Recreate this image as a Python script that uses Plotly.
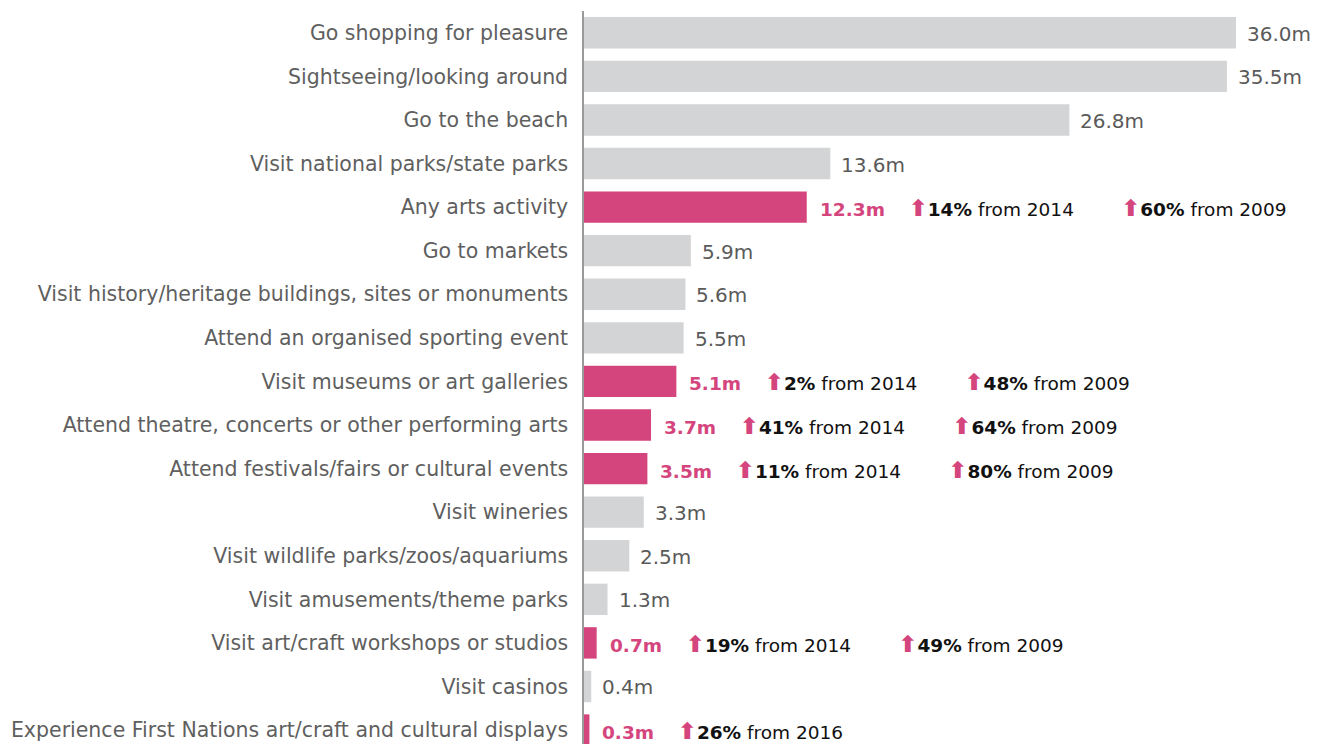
import plotly.graph_objects as go

categories = [
    "Go shopping for pleasure",
    "Sightseeing/looking around",
    "Go to the beach",
    "Visit national parks/state parks",
    "Any arts activity",
    "Go to markets",
    "Visit history/heritage buildings, sites or monuments",
    "Attend an organised sporting event",
    "Visit museums or art galleries",
    "Attend theatre, concerts or other performing arts",
    "Attend festivals/fairs or cultural events",
    "Visit wineries",
    "Visit wildlife parks/zoos/aquariums",
    "Visit amusements/theme parks",
    "Visit art/craft workshops or studios",
    "Visit casinos",
    "Experience First Nations art/craft and cultural displays",
]
visitors_m = [36.0, 35.5, 26.8, 13.6, 12.3, 5.9, 5.6, 5.5, 5.1, 3.7, 3.5, 3.3, 2.5, 1.3, 0.7, 0.4, 0.3]
is_arts = [False, False, False, False, True, False, False, False, True, True, True,
           False, False, False, True, False, True]
change_first = ["", "", "", "", "14%", "", "", "", "2%", "41%", "11%", "", "", "", "19%", "", "26%"]
first_year = ["", "", "", "", "2014", "", "", "", "2014", "2014", "2014", "", "", "", "2014", "", "2016"]
change_2009 = ["", "", "", "", "60%", "", "", "", "48%", "64%", "80%", "", "", "", "49%", "", ""]

PINK = "#d5457d"
GREY_BAR = "#d3d4d6"
FONT = "DejaVu Sans"

colors = [PINK if a else GREY_BAR for a in is_arts]

fig = go.Figure(go.Bar(
    x=visitors_m,
    y=categories,
    orientation="h",
    marker=dict(color=colors, line=dict(width=0)),
    width=0.72,
    hoverinfo="skip",
))

nb = "\u00a0"
arrow = f"<b><span style='color:{PINK};font-size:23px'>\u2b06</span></b>"
for cat, v, arts, c1, y1, c2 in zip(categories, visitors_m, is_arts, change_first, first_year, change_2009):
    if arts:
        txt = f"<b><span style='color:{PINK}'>{v:.1f}m</span></b>"
        if c1:
            txt += nb * 4 + f"{arrow}<b>{c1}</b> from {y1}"
        if c2:
            txt += nb * 8 + f"{arrow}<b>{c2}</b> from 2009"
        fig.add_annotation(
            x=v, y=cat, xref="x", yref="y", text=txt, showarrow=False,
            xanchor="left", yanchor="middle", xshift=11, yshift=-1,
            font=dict(family=FONT, size=18.5, color="#111111"),
        )
    else:
        fig.add_annotation(
            x=v, y=cat, xref="x", yref="y", text=f"{v:.1f}m", showarrow=False,
            xanchor="left", yanchor="middle", xshift=9, yshift=-1,
            font=dict(family=FONT, size=20, color="#5a5a5a"),
        )

# the page body has an 8px margin, so the figure is drawn 8px smaller
fig.update_layout(
    width=1318,
    height=736,
    margin=dict(l=576, r=0, t=3, b=0),
    paper_bgcolor="white",
    plot_bgcolor="white",
    showlegend=False,
    font=dict(family=FONT, size=20, color="#5f5f5f"),
)
fig.update_xaxes(range=[0, 40.97], visible=False, fixedrange=True)
fig.update_yaxes(
    categoryorder="array", categoryarray=categories,
    range=[16.32, -0.5],
    showline=True, linecolor="#9a9a9a", linewidth=1.5,
    showgrid=False, zeroline=False, ticks="",
    ticklabelstandoff=10,
    tickfont=dict(family=FONT, size=20.5, color="#5f5f5f"),
    fixedrange=True,
)

fig.write_html("out.html")
